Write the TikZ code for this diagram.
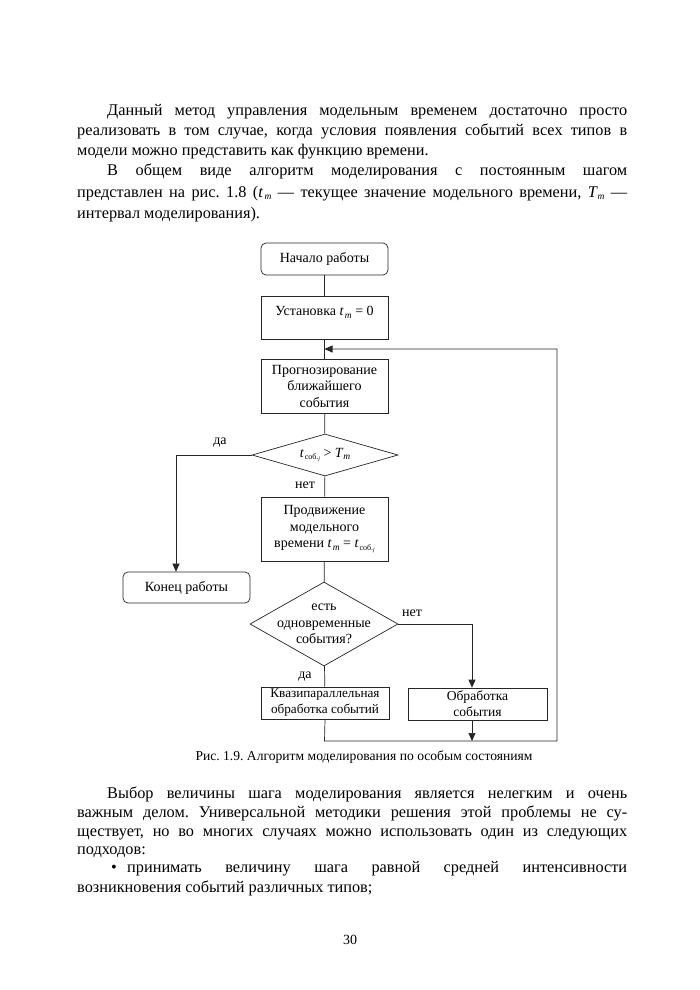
\documentclass[tikz,border=0pt]{standalone}
\usepackage{fontspec}
\setmainfont{Liberation Serif}
\usetikzlibrary{shapes.geometric,arrows.meta}
\frenchspacing

\newcommand{\tmv}{\textit{t}\kern0.08em\raisebox{-0.4ex}{\fontsize{9.5}{9.5}\selectfont\itshape m}}
\newcommand{\Tmv}{\textit{T}\kern-0.02em\raisebox{-0.4ex}{\fontsize{9.5}{9.5}\selectfont\itshape m}}
\newcommand{\tsob}{\textit{t}\kern0.05em\raisebox{-0.4ex}{\fontsize{8}{8}\selectfont соб.\raisebox{-0.35ex}{\fontsize{6}{6}\selectfont\itshape j}}}
\newcommand{\bodyfont}{\fontsize{16.3}{20}\selectfont}
\newcommand{\chartfont}{\fontsize{14}{16.5}\selectfont}
\newcommand{\jline}[2]{\makebox[#1][s]{#2}}

\tikzset{
  ln/.style={draw=black!85, line width=0.7pt},
  arr/.style={ln, -{Triangle[length=8pt,width=7pt]}},
  blk/.style={ln, rectangle, minimum width=127pt, inner sep=0pt, align=center, font=\chartfont},
  term/.style={blk, rounded corners=5pt},
  dia/.style={ln, diamond, inner sep=0pt},
  lbl/.style={font=\chartfont, inner sep=0pt},
  txt/.style={anchor=base west, inner sep=0pt, font=\bodyfont}
}

\begin{document}
\begin{tikzpicture}[x=1pt,y=-1pt]
\useasboundingbox (0,0) rectangle (700,990);
\fill[white] (0,0) rectangle (700,990);

% top text
\node[txt] (p1) at (107,115) {\jline{520pt}{Данный метод управления модельным временем достаточно просто}};
\node[txt] (p2) at (77,135) {\jline{550pt}{реализовать в том случае, когда условия появления событий всех типов в}};
\node[txt] (p3) at (77,155) {модели можно представить как функцию времени.};
\node[txt] (p4) at (107,175.5) {\jline{520pt}{В общем виде алгоритм моделирования с постоянным шагом}};
\node[txt] (p5) at (77,197) {\jline{550pt}{представлен на рис. 1.8 (\tmv{} — текущее значение модельного времени, \Tmv{} —}};
\node[txt] (p6) at (77,218) {интервал моделирования).};

% flowchart
\node[term, minimum height=32pt] (start) at (324.5,259) {Начало работы};
\node[blk, minimum height=43pt, text height=10pt, text depth=14pt] (init) at (324.5,317.5) {Установка \tmv{} = 0};
\node[blk, minimum height=54pt] (pred) at (324.5,386) {Прогнозирование\\ближайшего\\события};
\node[dia, minimum width=146pt, minimum height=42pt] (d1) at (325,455) {};
\node[lbl] at (d1) {\tsob{} > \Tmv};
\node[blk, minimum height=64pt] (adv) at (324.5,529) {Продвижение\\модельного\\времени \tmv{} = \tsob};
\node[term, minimum height=31pt] (endb) at (186.5,587.5) {Конец работы};
\node[dia, minimum width=148pt, minimum height=84pt] (d2) at (324,624) {};
\node[lbl, align=center] at (d2) {есть\\одновременные\\события?};
\node[blk, minimum width=128pt, minimum height=32pt, font=\fontsize{13.2}{16}\selectfont] (quasi) at (325,703) {Квазипараллельная\\обработка событий};
\node[blk, minimum width=139pt, minimum height=32pt, font=\fontsize{13.6}{16}\selectfont] (proc) at (477.5,704) {Обработка\\события};

\coordinate (lb) at (324.5,741);
\coordinate (rb) at (557,741);
\coordinate (rt) at (557,349);
\coordinate (lt) at (324.5,349);

\draw[ln] (start) -- (init);
\draw[ln] (init) -- (pred);
\draw[ln] (pred) -- (d1);
\draw[ln] (d1) -- (adv);
\draw[ln] (adv) -- (d2);
\draw[ln] (d2) -- (quasi);
\draw[arr] (d1.west) -| ([xshift=-10.5pt]endb.north);
\draw[arr] (d2.east) -| ([xshift=-5.5pt]proc.north);
\draw[arr] ([xshift=-5.5pt]proc.south) -- ([xshift=-5.5pt]proc.south |- lb);
\draw[arr] (quasi.south) -- (lb) -- (rb) -- (rt) -- (lt);

\node[lbl] (l1) at (220,443) {да};
\node[lbl] (l2) at (305,485) {нет};
\node[lbl] (l3) at (412,613) {нет};
\node[lbl] (l4) at (305,677) {да};

\node[inner sep=0pt, font=\fontsize{13.6}{15}\selectfont] (cap) at (364,757) {Рис. 1.9. Алгоритм моделирования по особым состояниям};

% bottom text
\node[txt] (q1) at (107,798) {\jline{520pt}{Выбор величины шага моделирования является нелегким и очень}};
\node[txt] (q2) at (77,817) {\jline{550pt}{важным делом. Универсальной методики решения этой проблемы не су-}};
\node[txt] (q3) at (77,836) {\jline{550pt}{ществует, но во многих случаях можно использовать один из следующих}};
\node[txt] (q4) at (77,854.5) {подходов:};
\node[txt] (q5a) at (111,872.5) {•};
\node[txt] (q5) at (127,872.5) {\jline{500pt}{принимать величину шага равной средней интенсивности}};
\node[txt] (q6) at (77,892) {возникновения событий различных типов;};

\node[inner sep=0pt, font=\fontsize{14}{16}\selectfont] (pg) at (350,940) {30};
\end{tikzpicture}
\end{document}
